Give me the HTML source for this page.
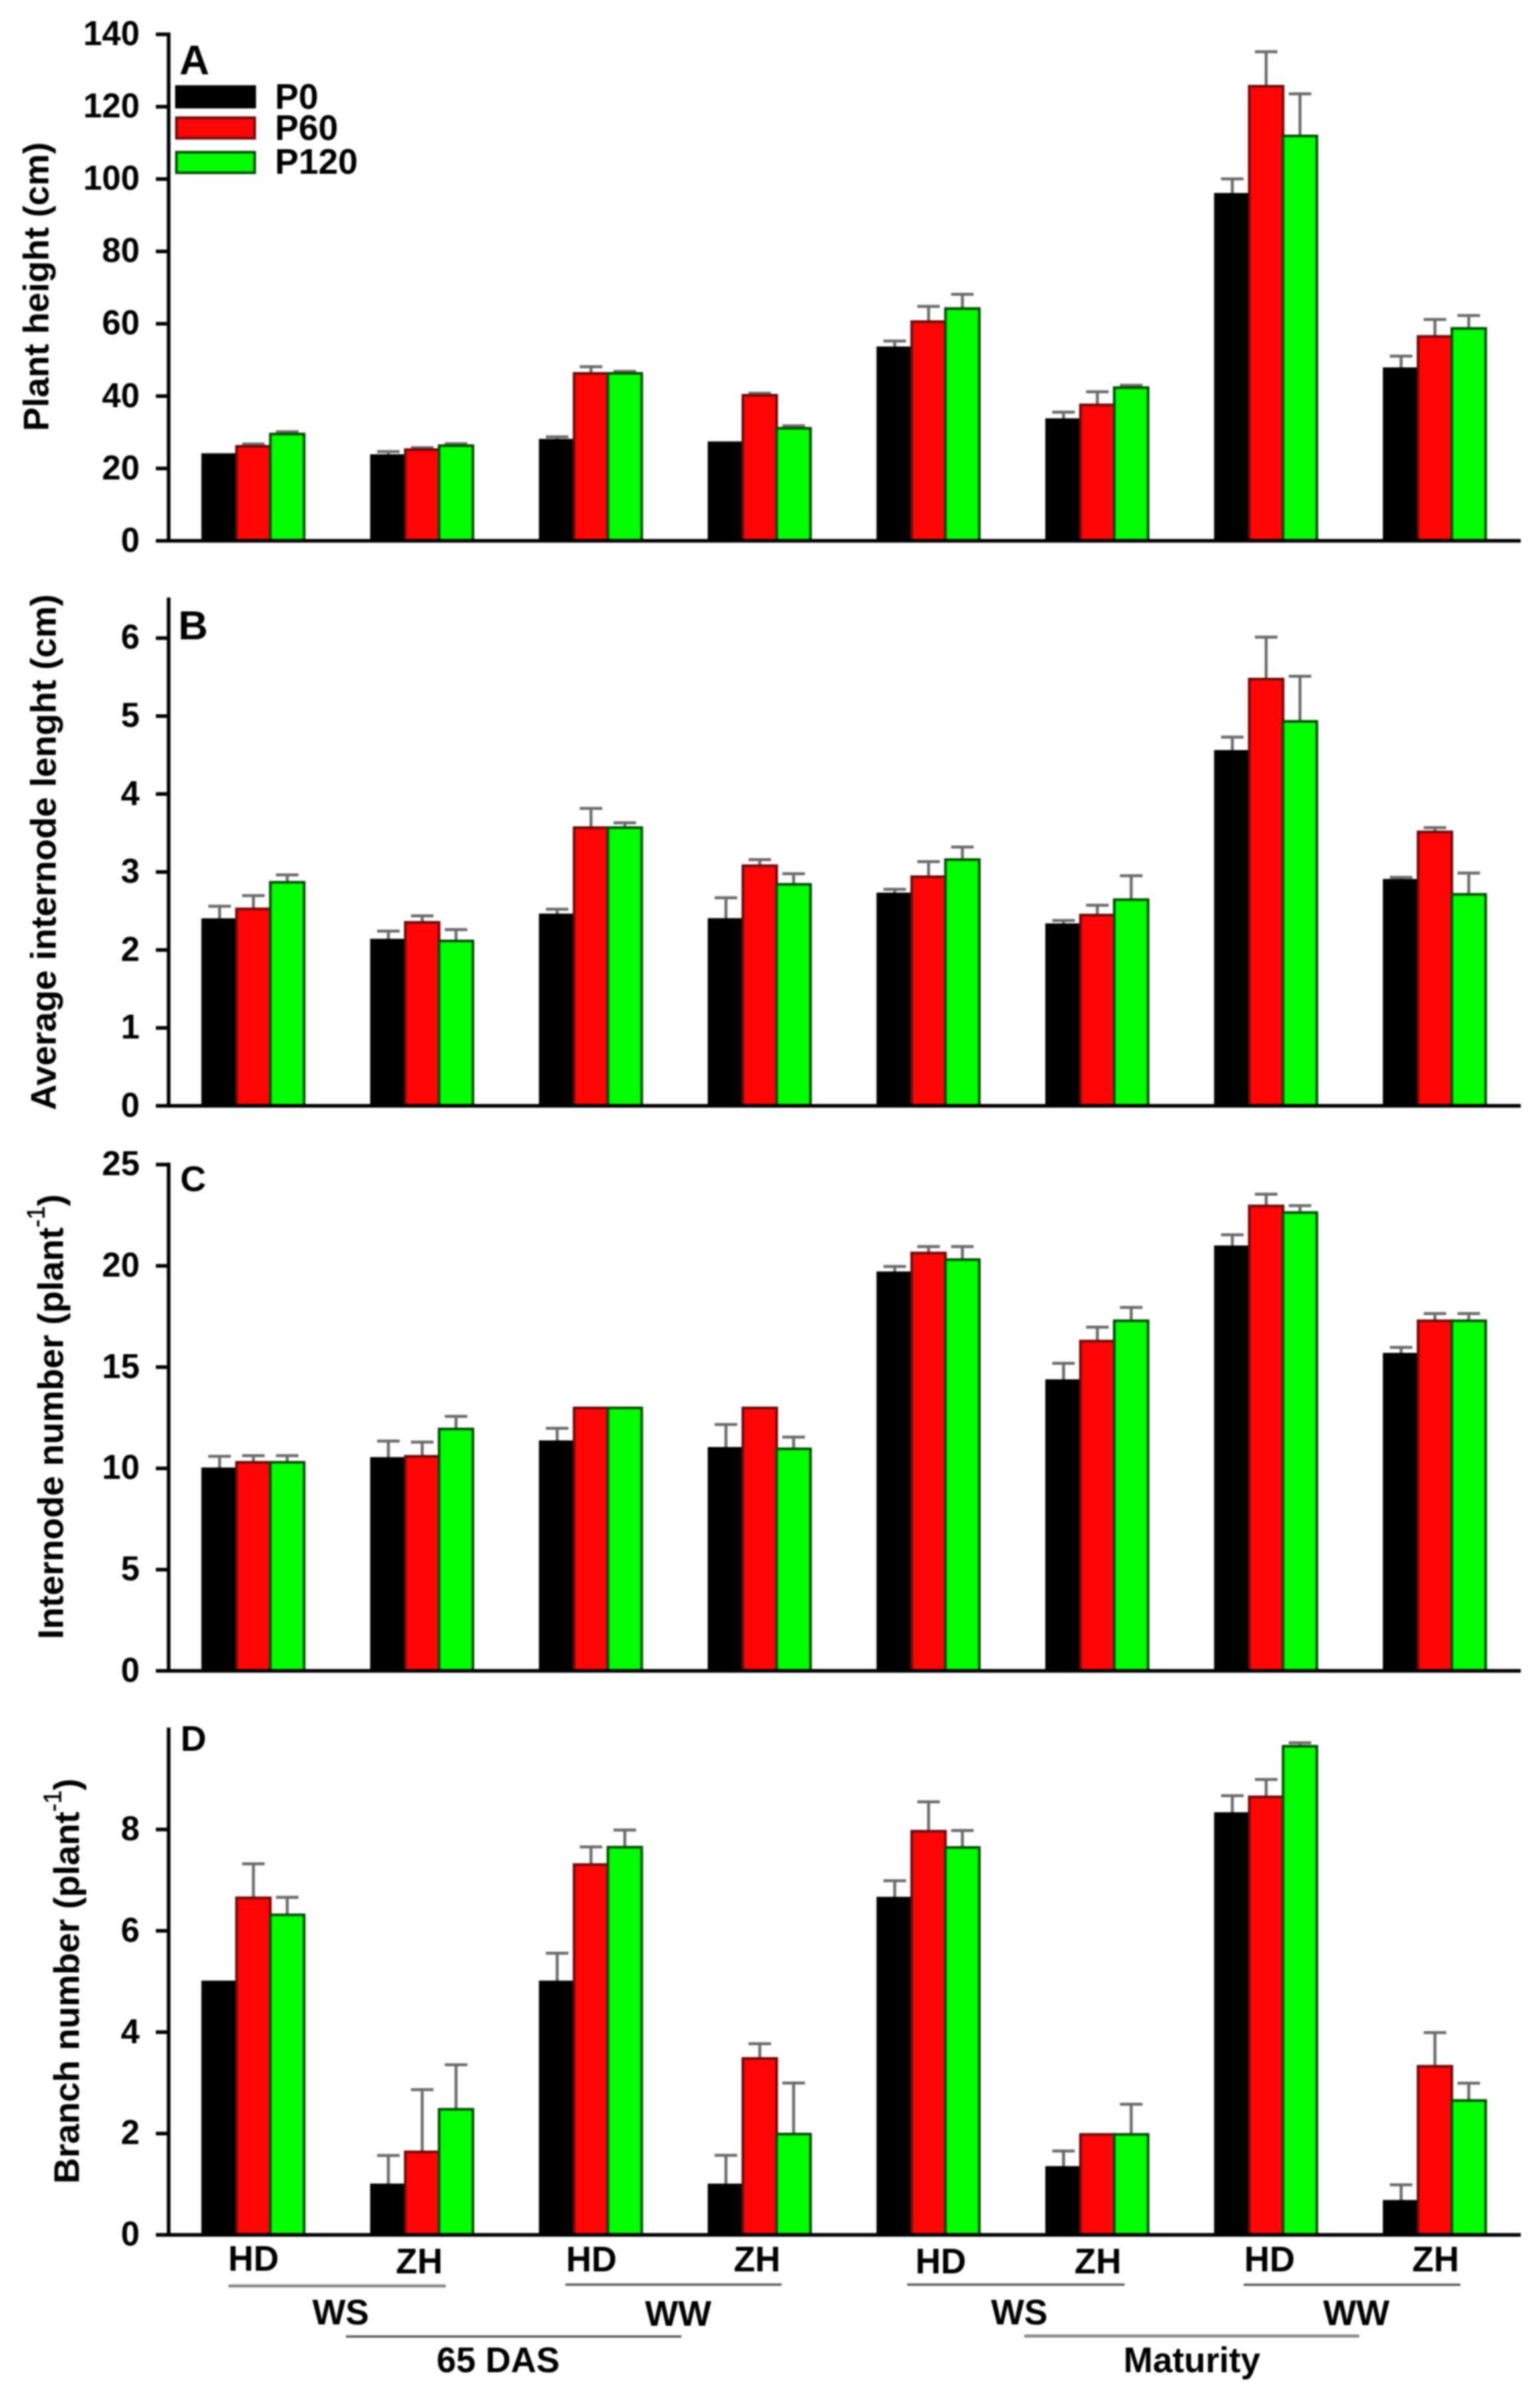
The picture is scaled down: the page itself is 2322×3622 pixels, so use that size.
<!DOCTYPE html>
<html lang="en"><head><meta charset="utf-8"><title>Figure</title>
<style>html,body{margin:0;padding:0;background:#fff}svg{display:block;filter:blur(0.8px)}text{font-family:"Liberation Sans", sans-serif;font-weight:bold;fill:#000}</style></head><body>
<svg width="2322" height="3622" viewBox="0 0 2322 3622">
<rect x="0" y="0" width="2322" height="3622" fill="#fff"/>
<g id="panel-A">
<path d="M382.1 673 V669.5 M365.1 669.5 H399.1" stroke="#6c6c6c" stroke-width="4.5" fill="none"/>
<path d="M433.1 654.5 V651 M416.1 651 H450.1" stroke="#6c6c6c" stroke-width="4.5" fill="none"/>
<rect x="305.6" y="685.5" width="51" height="130" fill="#000" stroke="#000" stroke-width="4"/>
<rect x="356.6" y="673" width="51" height="142.5" fill="#ff0505" stroke="#700a0a" stroke-width="4"/>
<rect x="407.6" y="654.5" width="51" height="161" fill="#00ff00" stroke="#004f00" stroke-width="4"/>
<path d="M585.6 687 V681 M568.6 681 H602.6" stroke="#6c6c6c" stroke-width="4.5" fill="none"/>
<path d="M636.6 678 V675 M619.6 675 H653.6" stroke="#6c6c6c" stroke-width="4.5" fill="none"/>
<path d="M687.6 672 V669 M670.6 669 H704.6" stroke="#6c6c6c" stroke-width="4.5" fill="none"/>
<rect x="560.1" y="687" width="51" height="128.5" fill="#000" stroke="#000" stroke-width="4"/>
<rect x="611.1" y="678" width="51" height="137.5" fill="#ff0505" stroke="#700a0a" stroke-width="4"/>
<rect x="662.1" y="672" width="51" height="143.5" fill="#00ff00" stroke="#004f00" stroke-width="4"/>
<path d="M840.1 663.8 V658.8 M823.1 658.8 H857.1" stroke="#6c6c6c" stroke-width="4.5" fill="none"/>
<path d="M891.1 563 V553 M874.1 553 H908.1" stroke="#6c6c6c" stroke-width="4.5" fill="none"/>
<path d="M942.1 563 V560 M925.1 560 H959.1" stroke="#6c6c6c" stroke-width="4.5" fill="none"/>
<rect x="814.6" y="663.8" width="51" height="151.7" fill="#000" stroke="#000" stroke-width="4"/>
<rect x="865.6" y="563" width="51" height="252.5" fill="#ff0505" stroke="#700a0a" stroke-width="4"/>
<rect x="916.6" y="563" width="51" height="252.5" fill="#00ff00" stroke="#004f00" stroke-width="4"/>
<path d="M1145.6 596 V593 M1128.6 593 H1162.6" stroke="#6c6c6c" stroke-width="4.5" fill="none"/>
<path d="M1196.6 645.8 V642 M1179.6 642 H1213.6" stroke="#6c6c6c" stroke-width="4.5" fill="none"/>
<rect x="1069.1" y="667.6" width="51" height="147.9" fill="#000" stroke="#000" stroke-width="4"/>
<rect x="1120.1" y="596" width="51" height="219.5" fill="#ff0505" stroke="#700a0a" stroke-width="4"/>
<rect x="1171.1" y="645.8" width="51" height="169.7" fill="#00ff00" stroke="#004f00" stroke-width="4"/>
<path d="M1349.1 524.5 V514.3 M1332.1 514.3 H1366.1" stroke="#6c6c6c" stroke-width="4.5" fill="none"/>
<path d="M1400.1 485 V462 M1383.1 462 H1417.1" stroke="#6c6c6c" stroke-width="4.5" fill="none"/>
<path d="M1451.1 465.3 V443.8 M1434.1 443.8 H1468.1" stroke="#6c6c6c" stroke-width="4.5" fill="none"/>
<rect x="1323.6" y="524.5" width="51" height="291" fill="#000" stroke="#000" stroke-width="4"/>
<rect x="1374.6" y="485" width="51" height="330.5" fill="#ff0505" stroke="#700a0a" stroke-width="4"/>
<rect x="1425.6" y="465.3" width="51" height="350.2" fill="#00ff00" stroke="#004f00" stroke-width="4"/>
<path d="M1603.6 632.8 V621.6 M1586.6 621.6 H1620.6" stroke="#6c6c6c" stroke-width="4.5" fill="none"/>
<path d="M1654.6 610.5 V590.8 M1637.6 590.8 H1671.6" stroke="#6c6c6c" stroke-width="4.5" fill="none"/>
<path d="M1705.6 584.5 V581 M1688.6 581 H1722.6" stroke="#6c6c6c" stroke-width="4.5" fill="none"/>
<rect x="1578.1" y="632.8" width="51" height="182.7" fill="#000" stroke="#000" stroke-width="4"/>
<rect x="1629.1" y="610.5" width="51" height="205" fill="#ff0505" stroke="#700a0a" stroke-width="4"/>
<rect x="1680.1" y="584.5" width="51" height="231" fill="#00ff00" stroke="#004f00" stroke-width="4"/>
<path d="M1858.1 293 V269.7 M1841.1 269.7 H1875.1" stroke="#6c6c6c" stroke-width="4.5" fill="none"/>
<path d="M1909.1 130 V78 M1892.1 78 H1926.1" stroke="#6c6c6c" stroke-width="4.5" fill="none"/>
<path d="M1960.1 205 V141.5 M1943.1 141.5 H1977.1" stroke="#6c6c6c" stroke-width="4.5" fill="none"/>
<rect x="1832.6" y="293" width="51" height="522.5" fill="#000" stroke="#000" stroke-width="4"/>
<rect x="1883.6" y="130" width="51" height="685.5" fill="#ff0505" stroke="#700a0a" stroke-width="4"/>
<rect x="1934.6" y="205" width="51" height="610.5" fill="#00ff00" stroke="#004f00" stroke-width="4"/>
<path d="M2112.6 556 V537 M2095.6 537 H2129.6" stroke="#6c6c6c" stroke-width="4.5" fill="none"/>
<path d="M2163.6 507.3 V481.8 M2146.6 481.8 H2180.6" stroke="#6c6c6c" stroke-width="4.5" fill="none"/>
<path d="M2214.6 495.2 V475.7 M2197.6 475.7 H2231.6" stroke="#6c6c6c" stroke-width="4.5" fill="none"/>
<rect x="2087.1" y="556" width="51" height="259.5" fill="#000" stroke="#000" stroke-width="4"/>
<rect x="2138.1" y="507.3" width="51" height="308.2" fill="#ff0505" stroke="#700a0a" stroke-width="4"/>
<rect x="2189.1" y="495.2" width="51" height="320.3" fill="#00ff00" stroke="#004f00" stroke-width="4"/>
<path d="M254.3 49 V818.2 M235 815.5 H2293" stroke="#000" stroke-width="5.5" fill="none"/>
<text x="210.5" y="831.7" font-size="51" text-anchor="end">0</text>
<path d="M235 706.4 H254.3" stroke="#000" stroke-width="5.5"/>
<text x="210.5" y="722.6" font-size="51" text-anchor="end">20</text>
<path d="M235 597.3 H254.3" stroke="#000" stroke-width="5.5"/>
<text x="210.5" y="613.5" font-size="51" text-anchor="end">40</text>
<path d="M235 488.2 H254.3" stroke="#000" stroke-width="5.5"/>
<text x="210.5" y="504.4" font-size="51" text-anchor="end">60</text>
<path d="M235 379.1 H254.3" stroke="#000" stroke-width="5.5"/>
<text x="210.5" y="395.3" font-size="51" text-anchor="end">80</text>
<path d="M235 270 H254.3" stroke="#000" stroke-width="5.5"/>
<text x="210.5" y="286.2" font-size="51" text-anchor="end">100</text>
<path d="M235 160.9 H254.3" stroke="#000" stroke-width="5.5"/>
<text x="210.5" y="177.1" font-size="51" text-anchor="end">120</text>
<path d="M235 51.8 H254.3" stroke="#000" stroke-width="5.5"/>
<text x="210.5" y="68" font-size="51" text-anchor="end">140</text>
</g>
<g id="panel-B">
<path d="M331.1 1386.7 V1366.5 M314.1 1366.5 H348.1" stroke="#6c6c6c" stroke-width="4.5" fill="none"/>
<path d="M382.1 1370.5 V1350.6 M365.1 1350.6 H399.1" stroke="#6c6c6c" stroke-width="4.5" fill="none"/>
<path d="M433.1 1330.4 V1319.2 M416.1 1319.2 H450.1" stroke="#6c6c6c" stroke-width="4.5" fill="none"/>
<rect x="305.6" y="1386.7" width="51" height="280.9" fill="#000" stroke="#000" stroke-width="4"/>
<rect x="356.6" y="1370.5" width="51" height="297.1" fill="#ff0505" stroke="#700a0a" stroke-width="4"/>
<rect x="407.6" y="1330.4" width="51" height="337.2" fill="#00ff00" stroke="#004f00" stroke-width="4"/>
<path d="M585.6 1417.6 V1404 M568.6 1404 H602.6" stroke="#6c6c6c" stroke-width="4.5" fill="none"/>
<path d="M636.6 1390.8 V1381 M619.6 1381 H653.6" stroke="#6c6c6c" stroke-width="4.5" fill="none"/>
<path d="M687.6 1418.9 V1401.7 M670.6 1401.7 H704.6" stroke="#6c6c6c" stroke-width="4.5" fill="none"/>
<rect x="560.1" y="1417.6" width="51" height="250" fill="#000" stroke="#000" stroke-width="4"/>
<rect x="611.1" y="1390.8" width="51" height="276.8" fill="#ff0505" stroke="#700a0a" stroke-width="4"/>
<rect x="662.1" y="1418.9" width="51" height="248.7" fill="#00ff00" stroke="#004f00" stroke-width="4"/>
<path d="M840.1 1379.6 V1371 M823.1 1371 H857.1" stroke="#6c6c6c" stroke-width="4.5" fill="none"/>
<path d="M891.1 1248 V1219 M874.1 1219 H908.1" stroke="#6c6c6c" stroke-width="4.5" fill="none"/>
<path d="M942.1 1248 V1240.8 M925.1 1240.8 H959.1" stroke="#6c6c6c" stroke-width="4.5" fill="none"/>
<rect x="814.6" y="1379.6" width="51" height="288" fill="#000" stroke="#000" stroke-width="4"/>
<rect x="865.6" y="1248" width="51" height="419.6" fill="#ff0505" stroke="#700a0a" stroke-width="4"/>
<rect x="916.6" y="1248" width="51" height="419.6" fill="#00ff00" stroke="#004f00" stroke-width="4"/>
<path d="M1094.6 1386.5 V1353.7 M1077.6 1353.7 H1111.6" stroke="#6c6c6c" stroke-width="4.5" fill="none"/>
<path d="M1145.6 1305.4 V1296.3 M1128.6 1296.3 H1162.6" stroke="#6c6c6c" stroke-width="4.5" fill="none"/>
<path d="M1196.6 1333.5 V1317.5 M1179.6 1317.5 H1213.6" stroke="#6c6c6c" stroke-width="4.5" fill="none"/>
<rect x="1069.1" y="1386.5" width="51" height="281.1" fill="#000" stroke="#000" stroke-width="4"/>
<rect x="1120.1" y="1305.4" width="51" height="362.2" fill="#ff0505" stroke="#700a0a" stroke-width="4"/>
<rect x="1171.1" y="1333.5" width="51" height="334.1" fill="#00ff00" stroke="#004f00" stroke-width="4"/>
<path d="M1349.1 1348 V1341 M1332.1 1341 H1366.1" stroke="#6c6c6c" stroke-width="4.5" fill="none"/>
<path d="M1400.1 1322 V1299.2 M1383.1 1299.2 H1417.1" stroke="#6c6c6c" stroke-width="4.5" fill="none"/>
<path d="M1451.1 1296.2 V1277.3 M1434.1 1277.3 H1468.1" stroke="#6c6c6c" stroke-width="4.5" fill="none"/>
<rect x="1323.6" y="1348" width="51" height="319.6" fill="#000" stroke="#000" stroke-width="4"/>
<rect x="1374.6" y="1322" width="51" height="345.6" fill="#ff0505" stroke="#700a0a" stroke-width="4"/>
<rect x="1425.6" y="1296.2" width="51" height="371.4" fill="#00ff00" stroke="#004f00" stroke-width="4"/>
<path d="M1603.6 1394.4 V1388 M1586.6 1388 H1620.6" stroke="#6c6c6c" stroke-width="4.5" fill="none"/>
<path d="M1654.6 1379.8 V1365 M1637.6 1365 H1671.6" stroke="#6c6c6c" stroke-width="4.5" fill="none"/>
<path d="M1705.6 1356.6 V1320.4 M1688.6 1320.4 H1722.6" stroke="#6c6c6c" stroke-width="4.5" fill="none"/>
<rect x="1578.1" y="1394.4" width="51" height="273.2" fill="#000" stroke="#000" stroke-width="4"/>
<rect x="1629.1" y="1379.8" width="51" height="287.8" fill="#ff0505" stroke="#700a0a" stroke-width="4"/>
<rect x="1680.1" y="1356.6" width="51" height="311" fill="#00ff00" stroke="#004f00" stroke-width="4"/>
<path d="M1858.1 1133 V1111.4 M1841.1 1111.4 H1875.1" stroke="#6c6c6c" stroke-width="4.5" fill="none"/>
<path d="M1909.1 1024 V960.7 M1892.1 960.7 H1926.1" stroke="#6c6c6c" stroke-width="4.5" fill="none"/>
<path d="M1960.1 1087.8 V1019.8 M1943.1 1019.8 H1977.1" stroke="#6c6c6c" stroke-width="4.5" fill="none"/>
<rect x="1832.6" y="1133" width="51" height="534.6" fill="#000" stroke="#000" stroke-width="4"/>
<rect x="1883.6" y="1024" width="51" height="643.6" fill="#ff0505" stroke="#700a0a" stroke-width="4"/>
<rect x="1934.6" y="1087.8" width="51" height="579.8" fill="#00ff00" stroke="#004f00" stroke-width="4"/>
<path d="M2112.6 1327.4 V1323 M2095.6 1323 H2129.6" stroke="#6c6c6c" stroke-width="4.5" fill="none"/>
<path d="M2163.6 1254.4 V1248 M2146.6 1248 H2180.6" stroke="#6c6c6c" stroke-width="4.5" fill="none"/>
<path d="M2214.6 1348.6 V1316.5 M2197.6 1316.5 H2231.6" stroke="#6c6c6c" stroke-width="4.5" fill="none"/>
<rect x="2087.1" y="1327.4" width="51" height="340.2" fill="#000" stroke="#000" stroke-width="4"/>
<rect x="2138.1" y="1254.4" width="51" height="413.2" fill="#ff0505" stroke="#700a0a" stroke-width="4"/>
<rect x="2189.1" y="1348.6" width="51" height="319" fill="#00ff00" stroke="#004f00" stroke-width="4"/>
<path d="M254.3 901.1 V1670.3 M235 1667.6 H2293" stroke="#000" stroke-width="5.5" fill="none"/>
<text x="210.5" y="1683.8" font-size="51" text-anchor="end">0</text>
<path d="M235 1550 H254.3" stroke="#000" stroke-width="5.5"/>
<text x="210.5" y="1566.2" font-size="51" text-anchor="end">1</text>
<path d="M235 1432.5 H254.3" stroke="#000" stroke-width="5.5"/>
<text x="210.5" y="1448.7" font-size="51" text-anchor="end">2</text>
<path d="M235 1314.9 H254.3" stroke="#000" stroke-width="5.5"/>
<text x="210.5" y="1331.1" font-size="51" text-anchor="end">3</text>
<path d="M235 1197.3 H254.3" stroke="#000" stroke-width="5.5"/>
<text x="210.5" y="1213.5" font-size="51" text-anchor="end">4</text>
<path d="M235 1079.8 H254.3" stroke="#000" stroke-width="5.5"/>
<text x="210.5" y="1096" font-size="51" text-anchor="end">5</text>
<path d="M235 962.2 H254.3" stroke="#000" stroke-width="5.5"/>
<text x="210.5" y="978.4" font-size="51" text-anchor="end">6</text>
</g>
<g id="panel-C">
<path d="M331.1 2214.8 V2196 M314.1 2196 H348.1" stroke="#6c6c6c" stroke-width="4.5" fill="none"/>
<path d="M382.1 2205 V2195 M365.1 2195 H399.1" stroke="#6c6c6c" stroke-width="4.5" fill="none"/>
<path d="M433.1 2205 V2195 M416.1 2195 H450.1" stroke="#6c6c6c" stroke-width="4.5" fill="none"/>
<rect x="305.6" y="2214.8" width="51" height="304.8" fill="#000" stroke="#000" stroke-width="4"/>
<rect x="356.6" y="2205" width="51" height="314.6" fill="#ff0505" stroke="#700a0a" stroke-width="4"/>
<rect x="407.6" y="2205" width="51" height="314.6" fill="#00ff00" stroke="#004f00" stroke-width="4"/>
<path d="M585.6 2199.2 V2173 M568.6 2173 H602.6" stroke="#6c6c6c" stroke-width="4.5" fill="none"/>
<path d="M636.6 2196 V2174.4 M619.6 2174.4 H653.6" stroke="#6c6c6c" stroke-width="4.5" fill="none"/>
<path d="M687.6 2154.8 V2135.8 M670.6 2135.8 H704.6" stroke="#6c6c6c" stroke-width="4.5" fill="none"/>
<rect x="560.1" y="2199.2" width="51" height="320.4" fill="#000" stroke="#000" stroke-width="4"/>
<rect x="611.1" y="2196" width="51" height="323.6" fill="#ff0505" stroke="#700a0a" stroke-width="4"/>
<rect x="662.1" y="2154.8" width="51" height="364.8" fill="#00ff00" stroke="#004f00" stroke-width="4"/>
<path d="M840.1 2174 V2153.8 M823.1 2153.8 H857.1" stroke="#6c6c6c" stroke-width="4.5" fill="none"/>
<rect x="814.6" y="2174" width="51" height="345.6" fill="#000" stroke="#000" stroke-width="4"/>
<rect x="865.6" y="2123" width="51" height="396.6" fill="#ff0505" stroke="#700a0a" stroke-width="4"/>
<rect x="916.6" y="2123" width="51" height="396.6" fill="#00ff00" stroke="#004f00" stroke-width="4"/>
<path d="M1094.6 2184 V2148 M1077.6 2148 H1111.6" stroke="#6c6c6c" stroke-width="4.5" fill="none"/>
<path d="M1196.6 2184.7 V2167 M1179.6 2167 H1213.6" stroke="#6c6c6c" stroke-width="4.5" fill="none"/>
<rect x="1069.1" y="2184" width="51" height="335.6" fill="#000" stroke="#000" stroke-width="4"/>
<rect x="1120.1" y="2123" width="51" height="396.6" fill="#ff0505" stroke="#700a0a" stroke-width="4"/>
<rect x="1171.1" y="2184.7" width="51" height="334.9" fill="#00ff00" stroke="#004f00" stroke-width="4"/>
<path d="M1349.1 1919.3 V1909.7 M1332.1 1909.7 H1366.1" stroke="#6c6c6c" stroke-width="4.5" fill="none"/>
<path d="M1400.1 1889.4 V1879.8 M1383.1 1879.8 H1417.1" stroke="#6c6c6c" stroke-width="4.5" fill="none"/>
<path d="M1451.1 1899.4 V1879.8 M1434.1 1879.8 H1468.1" stroke="#6c6c6c" stroke-width="4.5" fill="none"/>
<rect x="1323.6" y="1919.3" width="51" height="600.3" fill="#000" stroke="#000" stroke-width="4"/>
<rect x="1374.6" y="1889.4" width="51" height="630.2" fill="#ff0505" stroke="#700a0a" stroke-width="4"/>
<rect x="1425.6" y="1899.4" width="51" height="620.2" fill="#00ff00" stroke="#004f00" stroke-width="4"/>
<path d="M1603.6 2081.9 V2055.7 M1586.6 2055.7 H1620.6" stroke="#6c6c6c" stroke-width="4.5" fill="none"/>
<path d="M1654.6 2022.2 V2001.2 M1637.6 2001.2 H1671.6" stroke="#6c6c6c" stroke-width="4.5" fill="none"/>
<path d="M1705.6 1991.6 V1971.4 M1688.6 1971.4 H1722.6" stroke="#6c6c6c" stroke-width="4.5" fill="none"/>
<rect x="1578.1" y="2081.9" width="51" height="437.7" fill="#000" stroke="#000" stroke-width="4"/>
<rect x="1629.1" y="2022.2" width="51" height="497.4" fill="#ff0505" stroke="#700a0a" stroke-width="4"/>
<rect x="1680.1" y="1991.6" width="51" height="528" fill="#00ff00" stroke="#004f00" stroke-width="4"/>
<path d="M1858.1 1880.1 V1861.9 M1841.1 1861.9 H1875.1" stroke="#6c6c6c" stroke-width="4.5" fill="none"/>
<path d="M1909.1 1818.4 V1800.8 M1892.1 1800.8 H1926.1" stroke="#6c6c6c" stroke-width="4.5" fill="none"/>
<path d="M1960.1 1828.4 V1818 M1943.1 1818 H1977.1" stroke="#6c6c6c" stroke-width="4.5" fill="none"/>
<rect x="1832.6" y="1880.1" width="51" height="639.5" fill="#000" stroke="#000" stroke-width="4"/>
<rect x="1883.6" y="1818.4" width="51" height="701.2" fill="#ff0505" stroke="#700a0a" stroke-width="4"/>
<rect x="1934.6" y="1828.4" width="51" height="691.2" fill="#00ff00" stroke="#004f00" stroke-width="4"/>
<path d="M2112.6 2042 V2031.8 M2095.6 2031.8 H2129.6" stroke="#6c6c6c" stroke-width="4.5" fill="none"/>
<path d="M2163.6 1991.6 V1980.7 M2146.6 1980.7 H2180.6" stroke="#6c6c6c" stroke-width="4.5" fill="none"/>
<path d="M2214.6 1991.6 V1980.7 M2197.6 1980.7 H2231.6" stroke="#6c6c6c" stroke-width="4.5" fill="none"/>
<rect x="2087.1" y="2042" width="51" height="477.6" fill="#000" stroke="#000" stroke-width="4"/>
<rect x="2138.1" y="1991.6" width="51" height="528" fill="#ff0505" stroke="#700a0a" stroke-width="4"/>
<rect x="2189.1" y="1991.6" width="51" height="528" fill="#00ff00" stroke="#004f00" stroke-width="4"/>
<path d="M254.3 1753.3 V2522.3 M235 2519.6 H2293" stroke="#000" stroke-width="5.5" fill="none"/>
<text x="210.5" y="2535.8" font-size="51" text-anchor="end">0</text>
<path d="M235 2366.9 H254.3" stroke="#000" stroke-width="5.5"/>
<text x="210.5" y="2383.1" font-size="51" text-anchor="end">5</text>
<path d="M235 2214.2 H254.3" stroke="#000" stroke-width="5.5"/>
<text x="210.5" y="2230.4" font-size="51" text-anchor="end">10</text>
<path d="M235 2061.5 H254.3" stroke="#000" stroke-width="5.5"/>
<text x="210.5" y="2077.7" font-size="51" text-anchor="end">15</text>
<path d="M235 1908.8 H254.3" stroke="#000" stroke-width="5.5"/>
<text x="210.5" y="1925" font-size="51" text-anchor="end">20</text>
<path d="M235 1756.1 H254.3" stroke="#000" stroke-width="5.5"/>
<text x="210.5" y="1772.3" font-size="51" text-anchor="end">25</text>
</g>
<g id="panel-D">
<path d="M382.1 2861.7 V2810.5 M365.1 2810.5 H399.1" stroke="#6c6c6c" stroke-width="4.5" fill="none"/>
<path d="M433.1 2887.4 V2861 M416.1 2861 H450.1" stroke="#6c6c6c" stroke-width="4.5" fill="none"/>
<rect x="305.6" y="2988.6" width="51" height="381.4" fill="#000" stroke="#000" stroke-width="4"/>
<rect x="356.6" y="2861.7" width="51" height="508.3" fill="#ff0505" stroke="#700a0a" stroke-width="4"/>
<rect x="407.6" y="2887.4" width="51" height="482.6" fill="#00ff00" stroke="#004f00" stroke-width="4"/>
<path d="M585.6 3294.6 V3250.3 M568.6 3250.3 H602.6" stroke="#6c6c6c" stroke-width="4.5" fill="none"/>
<path d="M636.6 3244.8 V3150.9 M619.6 3150.9 H653.6" stroke="#6c6c6c" stroke-width="4.5" fill="none"/>
<path d="M687.6 3180.6 V3113.5 M670.6 3113.5 H704.6" stroke="#6c6c6c" stroke-width="4.5" fill="none"/>
<rect x="560.1" y="3294.6" width="51" height="75.4" fill="#000" stroke="#000" stroke-width="4"/>
<rect x="611.1" y="3244.8" width="51" height="125.2" fill="#ff0505" stroke="#700a0a" stroke-width="4"/>
<rect x="662.1" y="3180.6" width="51" height="189.4" fill="#00ff00" stroke="#004f00" stroke-width="4"/>
<path d="M840.1 2988.6 V2945.2 M823.1 2945.2 H857.1" stroke="#6c6c6c" stroke-width="4.5" fill="none"/>
<path d="M891.1 2811.6 V2785 M874.1 2785 H908.1" stroke="#6c6c6c" stroke-width="4.5" fill="none"/>
<path d="M942.1 2785.4 V2759.4 M925.1 2759.4 H959.1" stroke="#6c6c6c" stroke-width="4.5" fill="none"/>
<rect x="814.6" y="2988.6" width="51" height="381.4" fill="#000" stroke="#000" stroke-width="4"/>
<rect x="865.6" y="2811.6" width="51" height="558.4" fill="#ff0505" stroke="#700a0a" stroke-width="4"/>
<rect x="916.6" y="2785.4" width="51" height="584.6" fill="#00ff00" stroke="#004f00" stroke-width="4"/>
<path d="M1094.6 3294.7 V3250 M1077.6 3250 H1111.6" stroke="#6c6c6c" stroke-width="4.5" fill="none"/>
<path d="M1145.6 3103.9 V3081.7 M1128.6 3081.7 H1162.6" stroke="#6c6c6c" stroke-width="4.5" fill="none"/>
<path d="M1196.6 3218 V3141 M1179.6 3141 H1213.6" stroke="#6c6c6c" stroke-width="4.5" fill="none"/>
<rect x="1069.1" y="3294.7" width="51" height="75.3" fill="#000" stroke="#000" stroke-width="4"/>
<rect x="1120.1" y="3103.9" width="51" height="266.1" fill="#ff0505" stroke="#700a0a" stroke-width="4"/>
<rect x="1171.1" y="3218" width="51" height="152" fill="#00ff00" stroke="#004f00" stroke-width="4"/>
<path d="M1349.1 2862.2 V2836 M1332.1 2836 H1366.1" stroke="#6c6c6c" stroke-width="4.5" fill="none"/>
<path d="M1400.1 2761.3 V2717 M1383.1 2717 H1417.1" stroke="#6c6c6c" stroke-width="4.5" fill="none"/>
<path d="M1451.1 2785.8 V2760.3 M1434.1 2760.3 H1468.1" stroke="#6c6c6c" stroke-width="4.5" fill="none"/>
<rect x="1323.6" y="2862.2" width="51" height="507.8" fill="#000" stroke="#000" stroke-width="4"/>
<rect x="1374.6" y="2761.3" width="51" height="608.7" fill="#ff0505" stroke="#700a0a" stroke-width="4"/>
<rect x="1425.6" y="2785.8" width="51" height="584.2" fill="#00ff00" stroke="#004f00" stroke-width="4"/>
<path d="M1603.6 3268.3 V3243.4 M1586.6 3243.4 H1620.6" stroke="#6c6c6c" stroke-width="4.5" fill="none"/>
<path d="M1705.6 3218.5 V3173 M1688.6 3173 H1722.6" stroke="#6c6c6c" stroke-width="4.5" fill="none"/>
<rect x="1578.1" y="3268.3" width="51" height="101.7" fill="#000" stroke="#000" stroke-width="4"/>
<rect x="1629.1" y="3218.5" width="51" height="151.5" fill="#ff0505" stroke="#700a0a" stroke-width="4"/>
<rect x="1680.1" y="3218.5" width="51" height="151.5" fill="#00ff00" stroke="#004f00" stroke-width="4"/>
<path d="M1858.1 2734.7 V2707.8 M1841.1 2707.8 H1875.1" stroke="#6c6c6c" stroke-width="4.5" fill="none"/>
<path d="M1909.1 2709.5 V2683.3 M1892.1 2683.3 H1926.1" stroke="#6c6c6c" stroke-width="4.5" fill="none"/>
<path d="M1960.1 2633.2 V2628 M1943.1 2628 H1977.1" stroke="#6c6c6c" stroke-width="4.5" fill="none"/>
<rect x="1832.6" y="2734.7" width="51" height="635.3" fill="#000" stroke="#000" stroke-width="4"/>
<rect x="1883.6" y="2709.5" width="51" height="660.5" fill="#ff0505" stroke="#700a0a" stroke-width="4"/>
<rect x="1934.6" y="2633.2" width="51" height="736.8" fill="#00ff00" stroke="#004f00" stroke-width="4"/>
<path d="M2112.6 3319.4 V3294.5 M2095.6 3294.5 H2129.6" stroke="#6c6c6c" stroke-width="4.5" fill="none"/>
<path d="M2163.6 3115.7 V3064.9 M2146.6 3064.9 H2180.6" stroke="#6c6c6c" stroke-width="4.5" fill="none"/>
<path d="M2214.6 3167.4 V3141.2 M2197.6 3141.2 H2231.6" stroke="#6c6c6c" stroke-width="4.5" fill="none"/>
<rect x="2087.1" y="3319.4" width="51" height="50.6" fill="#000" stroke="#000" stroke-width="4"/>
<rect x="2138.1" y="3115.7" width="51" height="254.3" fill="#ff0505" stroke="#700a0a" stroke-width="4"/>
<rect x="2189.1" y="3167.4" width="51" height="202.6" fill="#00ff00" stroke="#004f00" stroke-width="4"/>
<path d="M254.3 2605 V3372.8 M235 3370 H2293" stroke="#000" stroke-width="5.5" fill="none"/>
<text x="210.5" y="3386.2" font-size="51" text-anchor="end">0</text>
<path d="M235 3217.2 H254.3" stroke="#000" stroke-width="5.5"/>
<text x="210.5" y="3233.4" font-size="51" text-anchor="end">2</text>
<path d="M235 3064.3 H254.3" stroke="#000" stroke-width="5.5"/>
<text x="210.5" y="3080.5" font-size="51" text-anchor="end">4</text>
<path d="M235 2911.5 H254.3" stroke="#000" stroke-width="5.5"/>
<text x="210.5" y="2927.7" font-size="51" text-anchor="end">6</text>
<path d="M235 2758.7 H254.3" stroke="#000" stroke-width="5.5"/>
<text x="210.5" y="2774.9" font-size="51" text-anchor="end">8</text>
</g>
<text x="270.5" y="112.3" font-size="62.5">A</text>
<text x="268.8" y="964.3" font-size="62">B</text>
<text x="271.7" y="1796" font-size="54">C</text>
<text x="272.2" y="2640.3" font-size="54">D</text>
<rect x="266" y="130.5" width="118" height="31" fill="#000" stroke="#000" stroke-width="4"/>
<text x="414.5" y="163.5" font-size="53.5">P0</text>
<rect x="266" y="177.5" width="118" height="31" fill="#ff0505" stroke="#700a0a" stroke-width="4"/>
<text x="414.5" y="210.6" font-size="53.5">P60</text>
<rect x="266" y="229.5" width="118" height="31" fill="#00ff00" stroke="#004f00" stroke-width="4"/>
<text x="414.5" y="262.1" font-size="53.5">P120</text>
<text transform="translate(72.8 432.2) rotate(-90)" font-size="53.7" text-anchor="middle">Plant height (cm)</text>
<text transform="translate(83.8 1285) rotate(-90)" font-size="54" text-anchor="middle">Average internode lenght (cm)</text>
<text transform="translate(94.5 2136.2) rotate(-90)" font-size="54" text-anchor="middle">Internode number (plant<tspan font-size="36" font-weight="normal" stroke="#000" stroke-width="0.7" dy="-27.5">-1</tspan><tspan dy="27.5">)</tspan></text>
<text transform="translate(119 2987.2) rotate(-90)" font-size="54" text-anchor="middle">Branch number (plant<tspan font-size="36" font-weight="normal" stroke="#000" stroke-width="0.7" dy="-27.5">-1</tspan><tspan dy="27.5">)</tspan></text>
<text x="382.3" y="3424" font-size="53" text-anchor="middle">HD</text>
<text x="632.2" y="3427.7" font-size="53" text-anchor="middle">ZH</text>
<text x="891.7" y="3425.3" font-size="53" text-anchor="middle">HD</text>
<text x="1141.5" y="3424.8" font-size="53" text-anchor="middle">ZH</text>
<text x="1418.5" y="3427.7" font-size="53" text-anchor="middle">HD</text>
<text x="1655.4" y="3427.7" font-size="53" text-anchor="middle">ZH</text>
<text x="1914.3" y="3424.8" font-size="53" text-anchor="middle">HD</text>
<text x="2164.7" y="3424.8" font-size="53" text-anchor="middle">ZH</text>
<text x="513.7" y="3505" font-size="53" text-anchor="middle">WS</text>
<text x="1022.5" y="3506.7" font-size="53" text-anchor="middle">WW</text>
<text x="1537" y="3505" font-size="53" text-anchor="middle">WS</text>
<text x="2045.1" y="3505.5" font-size="53" text-anchor="middle">WW</text>
<text x="751" y="3577" font-size="53" text-anchor="middle">65 DAS</text>
<text x="1797.1" y="3576.5" font-size="53" text-anchor="middle">Maturity</text>
<path d="M344.5 3447.1 H672" stroke="#858585" stroke-width="4.5"/>
<path d="M852.5 3445.1 H1178.5" stroke="#5a5a5a" stroke-width="3.5"/>
<path d="M1367.8 3445.1 H1695.7" stroke="#5a5a5a" stroke-width="3.5"/>
<path d="M1875.3 3445.3 H2202" stroke="#5a5a5a" stroke-width="3.5"/>
<path d="M521.5 3523.3 H1027.4" stroke="#5a5a5a" stroke-width="3.5"/>
<path d="M1544.5 3522.5 H2049.4" stroke="#858585" stroke-width="4.5"/>
</svg></body></html>
